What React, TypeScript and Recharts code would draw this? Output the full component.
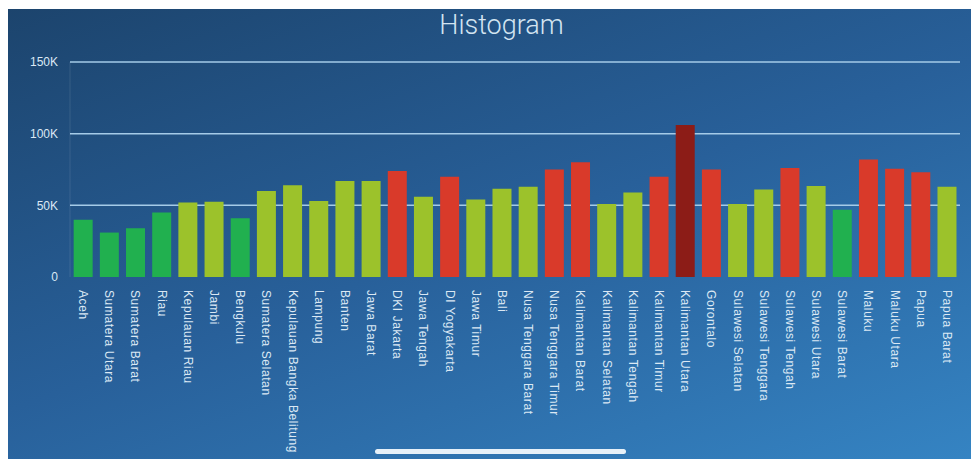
import React from 'react';
import { BarChart, Bar, XAxis, YAxis, CartesianGrid, Cell } from 'recharts';

const provinces = [
  'Aceh', 'Sumatera Utara', 'Sumatera Barat', 'Riau', 'Kepulauan Riau', 'Jambi', 'Bengkulu',
  'Sumatera Selatan', 'Kepulauan Bangka Belitung', 'Lampung', 'Banten', 'Jawa Barat', 'DKI Jakarta',
  'Jawa Tengah', 'DI Yogyakarta', 'Jawa Timur', 'Bali', 'Nusa Tenggara Barat', 'Nusa Tenggara Timur',
  'Kalimantan Barat', 'Kalimantan Selatan', 'Kalimantan Tengah', 'Kalimantan Timur', 'Kalimantan Utara',
  'Gorontalo', 'Sulawesi Selatan', 'Sulawesi Tenggara', 'Sulawesi Tengah', 'Sulawesi Utara',
  'Sulawesi Barat', 'Maluku', 'Maluku Utara', 'Papua', 'Papua Barat',
];

const values = [
  40000, 31000, 34000, 45000, 52000, 52500, 41000,
  60000, 64000, 53000, 67000, 67000, 74000,
  56000, 70000, 54000, 61500, 63000, 75000,
  80000, 51000, 59000, 70000, 106000,
  75000, 51000, 61000, 76000, 63500,
  47000, 82000, 75500, 73000, 63000,
];

const yTicks = [0, 50000, 100000, 150000];

const data = provinces.map((name, i) => ({ name, value: values[i] }));
const maxValue = Math.max(...values);

// warna berdasarkan nilai
const getColor = (v: number) => {
  if (v === maxValue) return '#8c1c17';
  if (v >= 70000) return '#d93a2a';
  if (v >= 50000) return '#9cc22b';
  return '#21b04f';
};

const XTick = ({ x, y, payload }: any) => (
  <g transform={`translate(${x},${y + 13})`}>
    <text
      transform="rotate(90)"
      x={0}
      y={0}
      textAnchor="start"
      dominantBaseline="central"
      fill="#dbe8f4"
      fontSize={12}
      letterSpacing={0.6}
    >
      {payload.value}
    </text>
  </g>
);

const App: React.FC = () => {
  return (
    <div
      style={{
        position: 'relative',
        width: 971,
        height: 450,
        marginTop: 1,
        overflow: 'hidden',
        background: 'linear-gradient(160deg, #1c446d 0%, #28609a 50%, #3584c3 100%)',
        fontFamily: '"Liberation Sans", Arial, sans-serif',
      }}
    >
      <div
        style={{
          position: 'absolute',
          top: 0,
          left: 0,
          width: '100%',
          textAlign: 'center',
          color: '#d3e4f1',
          fontFamily: 'Roboto, "Liberation Sans", sans-serif',
          fontWeight: 300,
          fontSize: 27,
          lineHeight: '30px',
          paddingTop: 1,
          paddingLeft: 8,
        }}
      >
        Histogram
      </div>
      <BarChart
        width={971}
        height={450}
        data={data}
        margin={{ top: 53, right: 19, left: 0, bottom: 0 }}
        barCategoryGap="14%"
      >
        <CartesianGrid
          vertical={false}
          horizontalValues={[50000, 100000, 150000]}
          stroke="#a5cbe8"
          strokeWidth={1.5}
        />
        <XAxis
          dataKey="name"
          interval={0}
          height={182}
          tickLine={false}
          axisLine={false}
          tickSize={0}
          tickMargin={0}
          tick={<XTick />}
        />
        <YAxis
          width={62}
          domain={[0, 150000]}
          ticks={yTicks}
          tickLine={false}
          axisLine={{ stroke: 'rgba(255,255,255,0.1)' }}
          tickMargin={6}
          tick={{ fill: '#dbe8f4', fontSize: 12 }}
          tickFormatter={(v: number) => (v === 0 ? '0' : `${v / 1000}K`)}
        />
        <Bar dataKey="value" isAnimationActive={false}>
          {data.map((entry, index) => (
            <Cell key={`cell-${index}`} fill={getColor(entry.value)} />
          ))}
        </Bar>
      </BarChart>
      <div
        style={{
          position: 'absolute',
          left: 367,
          top: 440,
          width: 251,
          height: 5,
          borderRadius: 3,
          background: '#e6f0f8',
        }}
      />
    </div>
  );
};

export default App;
